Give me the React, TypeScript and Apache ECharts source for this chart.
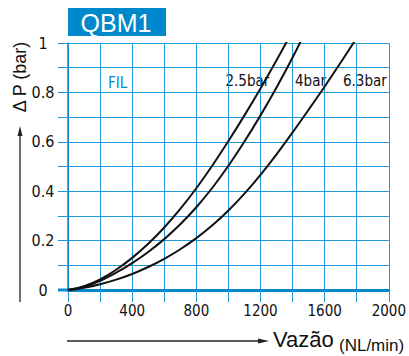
import React, { useEffect, useRef } from "react";
import * as echarts from "echarts";

const title = "QBM1";
const seriesNames = ["2.5bar", "4bar", "6.3bar"];
// flow (NL/min) every 100; the last point lies above the 1 bar limit and is clipped by the grid
const flow25: number[] = [0, 100, 200, 300, 400, 500, 600, 700, 800, 900, 1000, 1100, 1200, 1300, 1400];
const dp25: number[] = [0, 0.015, 0.043, 0.082, 0.13, 0.187, 0.253, 0.328, 0.412, 0.504, 0.603, 0.707, 0.816, 0.93, 1.049];
const flow40: number[] = [0, 100, 200, 300, 400, 500, 600, 700, 800, 900, 1000, 1100, 1200, 1300, 1400, 1500];
const dp40: number[] = [0, 0.013, 0.037, 0.07, 0.109, 0.154, 0.206, 0.266, 0.335, 0.414, 0.503, 0.601, 0.707, 0.82, 0.941, 1.073];
const flow63: number[] = [0, 100, 200, 300, 400, 500, 600, 700, 800, 900, 1000, 1100, 1200, 1300, 1400, 1500, 1600, 1700, 1800];
const dp63: number[] = [0, 0.009, 0.023, 0.042, 0.065, 0.093, 0.126, 0.165, 0.21, 0.262, 0.322, 0.39, 0.466, 0.549, 0.638, 0.73, 0.824, 0.921, 1.021];
const annotation = "FIL";
const yTitle = "Δ P (bar)";
const xTitle = "Vazão";
const xUnit = "(NL/min)";

const NARROW = '"Liberation Sans Narrow", "DejaVu Sans Condensed", "Arial Narrow", sans-serif';
const SANS = '"Liberation Sans", Arial, sans-serif';
const GRID = "#1e98da";
const BLUE = "#0088cc";

function zip(xs: number[], ys: number[]) {
  return xs.map((x, i) => [x, ys[i]]);
}

export default function App() {
  const ref = useRef<HTMLDivElement>(null);
  useEffect(() => {
    if (!ref.current) return;
    const chart = echarts.init(ref.current, undefined, { renderer: "svg" });
    const lineSeries = [zip(flow25, dp25), zip(flow40, dp40), zip(flow63, dp63)].map((d, i) => ({
      name: seriesNames[i],
      type: "line",
      data: d,
      smooth: 0.4,
      clip: true,
      showSymbol: false,
      lineStyle: { color: "#111", width: 2 },
      z: 5,
    }));
    chart.setOption({
      animation: false,
      backgroundColor: "#fff",
      grid: { left: 68, right: 14, top: 43, bottom: 66 },
      xAxis: {
        type: "value",
        min: 0,
        max: 2000,
        interval: 200,
        axisLine: { show: true, lineStyle: { color: "#0a86cc", width: 3 } },
        axisTick: { show: true, length: 12, lineStyle: { color: GRID, width: 1 } },
        splitLine: { show: true, lineStyle: { color: GRID, width: 1 } },
        axisLabel: {
          margin: 13,
          color: "#111",
          fontFamily: NARROW,
          fontSize: 15,
          formatter: (v: number) => (Math.round(v) % 400 === 0 ? String(Math.round(v)) : ""),
        },
      },
      yAxis: {
        type: "value",
        min: 0,
        max: 1,
        interval: 0.1,
        axisLine: { show: true, lineStyle: { color: "#0a86cc", width: 1.5 } },
        axisTick: { show: true, length: 10, lineStyle: { color: GRID, width: 1 } },
        splitLine: { show: true, lineStyle: { color: GRID, width: 1 } },
        axisLabel: {
          margin: 25,
          align: "center",
          color: "#111",
          fontFamily: NARROW,
          fontSize: 16,
          formatter: (v: number) => {
            const t = Math.round(v * 10);
            if (t % 2 !== 0) return "";
            if (t === 0) return "0";
            if (t === 10) return "1";
            return (t / 10).toFixed(1);
          },
        },
      },
      graphic: [
        { type: "rect", shape: { x: 68, y: 8, width: 98, height: 28 }, style: { fill: BLUE } },
        {
          type: "text",
          x: 116,
          y: 22.5,
          style: { text: title, fill: "#fff", font: `25px ${SANS}`, align: "center", verticalAlign: "middle" },
        },
        {
          type: "text",
          x: 20,
          y: 77,
          rotation: Math.PI / 2,
          style: { text: yTitle, fill: "#111", font: `18px ${SANS}`, align: "center", verticalAlign: "middle" },
        },
        { type: "line", shape: { x1: 58, y1: 290, x2: 68, y2: 290 }, style: { stroke: "#0a86cc", lineWidth: 3 } },
        { type: "line", shape: { x1: 20, y1: 302, x2: 20, y2: 134 }, style: { stroke: "#222", lineWidth: 1.3 } },
        { type: "polygon", shape: { points: [[20, 126], [17.5, 136], [22.5, 136]] }, style: { fill: "#222" } },
        { type: "line", shape: { x1: 67, y1: 341, x2: 260, y2: 341 }, style: { stroke: "#222", lineWidth: 1.3 } },
        { type: "polygon", shape: { points: [[269, 341], [258, 338.5], [258, 343.5]] }, style: { fill: "#222" } },
        {
          type: "text",
          x: 273,
          y: 339,
          style: { text: xTitle, fill: "#111", font: `22px ${SANS}`, align: "left", verticalAlign: "middle" },
        },
        {
          type: "text",
          x: 339,
          y: 345,
          style: { text: xUnit, fill: "#111", font: `17px ${SANS}`, align: "left", verticalAlign: "middle" },
        },
        {
          type: "text",
          x: 108,
          y: 82.5,
          style: { text: annotation, fill: BLUE, font: `15px ${NARROW}`, align: "left", verticalAlign: "middle" },
        },
        {
          type: "text",
          x: 225.5,
          y: 81,
          style: { text: seriesNames[0], fill: "#111", font: `15px ${NARROW}`, align: "left", verticalAlign: "middle" },
        },
        {
          type: "text",
          x: 295,
          y: 81,
          style: { text: seriesNames[1], fill: "#111", font: `15px ${NARROW}`, align: "left", verticalAlign: "middle" },
        },
        {
          type: "text",
          x: 343,
          y: 81,
          style: { text: seriesNames[2], fill: "#111", font: `15px ${NARROW}`, align: "left", verticalAlign: "middle" },
        },
      ],
      series: lineSeries,
    });
    return () => chart.dispose();
  }, []);
  return <div ref={ref} style={{ position: "absolute", left: 0, top: 0, width: 409, height: 356 }} />;
}
